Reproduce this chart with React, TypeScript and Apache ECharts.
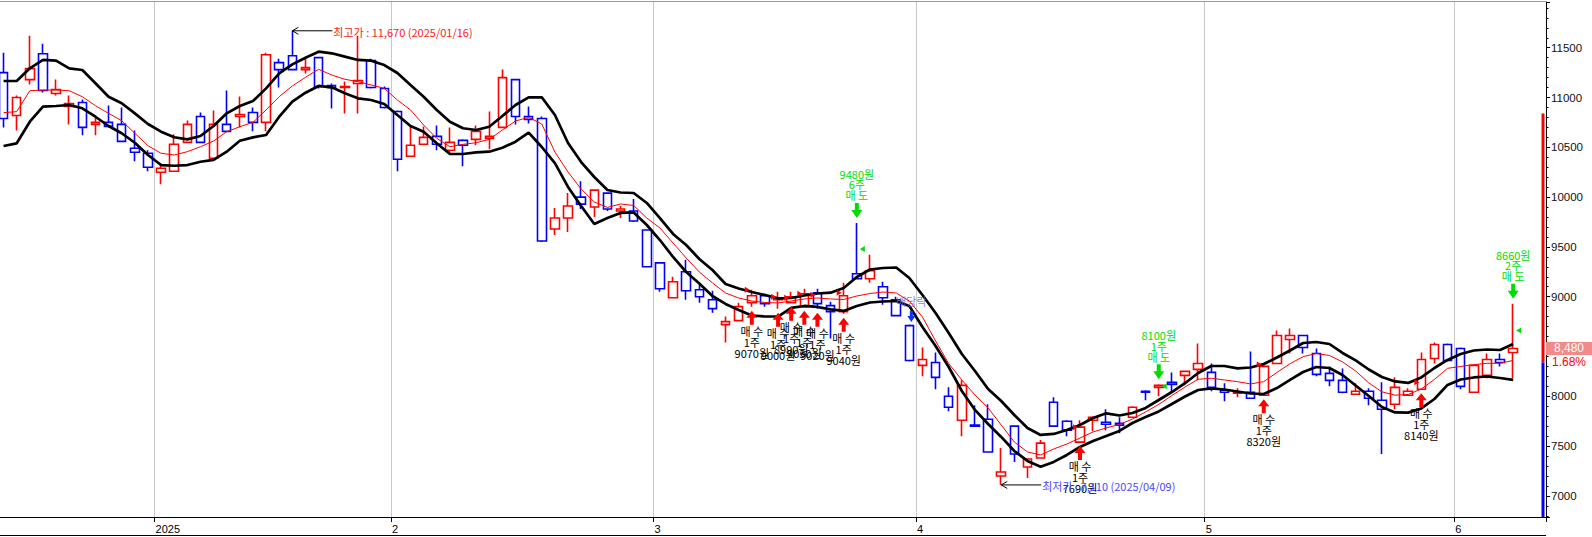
import React, { useEffect, useRef } from 'react';
import * as echarts from 'echarts';

const dates = [
  '2024-12-12','2024-12-13','2024-12-16','2024-12-17','2024-12-18','2024-12-19','2024-12-20','2024-12-23','2024-12-24','2024-12-26','2024-12-27','2024-12-30',
  '2025-01-02','2025-01-03','2025-01-06','2025-01-07','2025-01-08','2025-01-09','2025-01-10','2025-01-13','2025-01-14','2025-01-15','2025-01-16','2025-01-17','2025-01-20','2025-01-21','2025-01-22','2025-01-23','2025-01-24','2025-01-31',
  '2025-02-03','2025-02-04','2025-02-05','2025-02-06','2025-02-07','2025-02-10','2025-02-11','2025-02-12','2025-02-13','2025-02-14','2025-02-17','2025-02-18','2025-02-19','2025-02-20','2025-02-21','2025-02-24','2025-02-25','2025-02-26','2025-02-27','2025-02-28',
  '2025-03-04','2025-03-05','2025-03-06','2025-03-07','2025-03-10','2025-03-11','2025-03-12','2025-03-13','2025-03-14','2025-03-17','2025-03-18','2025-03-19','2025-03-20','2025-03-21','2025-03-24','2025-03-25','2025-03-26','2025-03-27','2025-03-28','2025-03-31',
  '2025-04-01','2025-04-02','2025-04-03','2025-04-04','2025-04-07','2025-04-08','2025-04-09','2025-04-10','2025-04-11','2025-04-14','2025-04-15','2025-04-16','2025-04-17','2025-04-18','2025-04-21','2025-04-22','2025-04-23','2025-04-24','2025-04-25','2025-04-28','2025-04-29','2025-04-30',
  '2025-05-02','2025-05-07','2025-05-08','2025-05-09','2025-05-12','2025-05-13','2025-05-14','2025-05-15','2025-05-16','2025-05-19','2025-05-20','2025-05-21','2025-05-22','2025-05-23','2025-05-26','2025-05-27','2025-05-28','2025-05-29','2025-05-30',
  '2025-06-02','2025-06-04','2025-06-05','2025-06-09','2025-06-10'
];
const padSlots = ['pad-1', 'pad-2'];
const monthTickLabels = ['2025', '2', '3', '4', '5', '6'];

const openP = [
  11250,10820,11180,11440,11040,10910,10950,10730,10750,10730,10490,10440,
  10250,10260,10550,10810,10390,10730,10810,10850,10750,11350,11420,11280,11400,11120,11100,11140,11370,11090,
  10860,10410,10530,10610,10470,10570,10580,10590,10700,11180,10810,10790,9680,9790,10000,9900,10040,9860,9860,9670,
  9340,8990,9250,9070,8970,8720,8760,8940,9010,8970,8940,8900,9040,8910,8850,9230,9180,9100,8970,8710,
  8310,8340,8000,7760,7710,7770,7200,7700,7290,7380,7940,7750,7540,7760,7740,7730,7790,8050,8090,8140,8210,8270,
  8240,8060,8030,8040,8010,8330,8570,8610,8430,8230,8160,8020,8050,7960,7920,8010,8070,8380,8520,
  8480,8040,8210,8370,8440
];
const closeP = [
  10790,11000,11290,11070,11080,10940,10700,10750,10710,10560,10450,10300,
  10290,10530,10730,10550,10730,10660,10830,10750,11430,11280,11280,11300,11110,11100,11110,11170,11100,10900,
  10380,10520,10600,10530,10550,10520,10660,10610,11200,10810,10780,9560,9790,9910,9930,10070,9880,9880,9760,9300,
  9080,9150,9060,9000,8880,8750,8900,9010,8930,8990,9000,9030,8930,8850,9010,9180,9260,8990,8810,8360,
  8370,8190,7890,8110,7700,7440,7240,7420,7370,7530,7700,7660,7690,7790,7720,7710,7890,8040,8110,8120,8250,8330,
  8090,8040,8040,7980,8300,8610,8610,8490,8220,8160,8040,8050,7980,7870,8090,8050,8370,8520,8360,
  8100,8310,8370,8340,8480
];
const lowP = [
  10700,10670,11130,11050,11020,10730,10620,10620,10700,10550,10360,10260,
  10130,10260,10550,10540,10390,10660,10700,10660,10660,11100,11280,11240,11090,10890,10840,10840,11090,10890,
  10260,10410,10530,10470,10430,10310,10520,10480,10700,10730,10740,9550,9620,9650,9880,9800,9860,9790,9750,9300,
  9050,8990,8970,8940,8840,8540,8760,8900,8900,8880,8940,8900,8880,8580,8830,9180,9140,8920,8800,8350,
  8200,8070,7850,7600,7700,7440,7110,7340,7180,7380,7700,7600,7540,7650,7660,7630,7790,7960,8000,8050,8110,8160,
  8050,7950,7990,7980,8010,8330,8430,8430,8200,8100,8030,8020,7910,7420,7870,8010,8070,8330,8350,
  8070,8040,8180,8300,8180
];
const highP = [
  11450,11020,11620,11540,11180,11020,10980,10810,10920,10900,10670,10470,
  10340,10630,10770,10850,10870,11070,11010,10900,11450,11390,11670,11400,11400,11140,11160,11620,11390,11110,
  10870,10710,10710,10720,10700,10580,10720,10860,11280,11180,10910,10810,9890,10040,10160,10080,10040,9910,9980,9670,
  9340,9200,9370,9120,9060,8800,8940,9070,9030,9050,9050,9080,9080,8950,9140,9740,9420,9150,9000,8720,
  8490,8440,8090,8160,7910,7920,7480,7710,7370,7560,7990,7760,7760,7800,7870,7790,7900,8060,8120,8240,8250,8530,
  8330,8130,8080,8450,8330,8660,8680,8610,8480,8300,8280,8130,8080,8140,8190,8080,8440,8540,8530,
  8490,8320,8430,8430,8930
];

const upperBand = [
  11166,11166,11293,11377,11370,11293,11276,11143,11008,10942,10841,10734,
  10657,10601,10580,10614,10714,10841,10915,10965,11092,11243,11333,11400,11460,11444,11410,11377,11370,11326,
  11246,11126,11008,10875,10757,10691,10674,10707,10814,10925,11002,11002,10824,10543,10352,10202,10071,10046,10041,9941,
  9790,9630,9519,9379,9268,9128,9082,9047,9017,8984,8987,9012,9032,9040,9087,9198,9273,9288,9293,9188,
  9017,8836,8636,8425,8254,8073,7953,7812,7682,7612,7622,7662,7712,7782,7829,7807,7832,7883,7963,8043,8131,8234,
  8304,8304,8281,8289,8324,8390,8460,8535,8545,8525,8435,8360,8269,8194,8149,8134,8189,8284,8365,
  8425,8460,8470,8465,8525
];
const midLine = [
  10848,10858,11068,11075,11075,11068,11008,10918,10841,10767,10641,10516,
  10440,10423,10456,10506,10563,10657,10707,10751,10875,11008,11116,11203,11283,11226,11183,11159,11126,11092,
  10975,10875,10724,10590,10506,10530,10546,10580,10674,10764,10801,10734,10453,10252,10081,9951,9896,9931,9916,9790,
  9690,9539,9389,9248,9138,9037,8987,8957,8942,8937,8957,8977,8987,8977,8972,9007,9032,9047,9037,8957,
  8796,8555,8329,8164,8013,7883,7712,7541,7441,7411,7471,7521,7581,7642,7682,7717,7772,7843,7918,8008,8093,8171,
  8181,8164,8147,8124,8147,8239,8327,8398,8430,8410,8345,8254,8134,8045,8011,8018,8073,8169,8281,
  8299,8318,8331,8331,8360
];
const lowerBand = [
  10513,10540,10757,10908,10915,10925,10892,10807,10714,10641,10546,10423,
  10322,10315,10322,10355,10373,10456,10566,10600,10624,10807,10958,11048,11116,11102,11042,10992,10975,10935,
  10824,10714,10657,10540,10433,10433,10450,10456,10496,10556,10647,10503,10342,10102,9911,9730,9790,9841,9846,9720,
  9569,9399,9248,9133,9007,8927,8867,8811,8801,8801,8887,8907,8897,8872,8857,8907,8942,8952,8957,8907,
  8696,8505,8294,8053,7863,7722,7592,7451,7351,7293,7341,7411,7491,7551,7602,7652,7732,7792,7848,7923,7998,8063,
  8080,8068,8048,8028,8023,8083,8164,8244,8294,8284,8214,8109,8003,7893,7838,7836,7878,7973,8114,
  8169,8189,8199,8184,8164
];

const buyIdx = [57, 59, 60, 61, 62, 64, 82, 96, 108];
const buyPrice = [9070, 9000, 8990, 9030, 9020, 9040, 7690, 8320, 8140];
const buyQty = [1, 1, 1, 1, 1, 1, 1, 1, 1];
const sellIdx = [65, 88, 115];
const sellPrice = [9480, 8100, 8660];
const sellQty = [6, 1, 2];
const exDivIdx = [69];

const extremeIdx = [22, 76];
const extremePrice = [11670, 7110];
const extremeKind = ['최고가', '최저가'];

const lastPrice = 8480;
const prevClose = 8340;
const changePct = '1.68%';
const upperLimit = 10840;
const yMin = 6788;
const yMax = 11959;

const categories = [...dates, ...padSlots];
const monthStartIdx = dates
  .map((d, i) => (i > 0 && d.slice(5, 7) !== dates[i - 1].slice(5, 7) ? i : -1))
  .filter((i) => i >= 0);
const isMonthStart = (index: number) => monthStartIdx.indexOf(index) >= 0;

const KR_FONT = '"Noto Sans CJK KR", "Noto Sans", sans-serif';
const fmt = (v: number) => v.toLocaleString('en-US');

function txt(text: string, x: number, y: number, fill: string, align = 'center', size = 11, opacity = 1) {
  return {
    type: 'text',
    x,
    y,
    style: { text, fill, font: `${size}px ${KR_FONT}`, align, verticalAlign: 'middle', opacity },
  };
}

export default function App() {
  const ref = useRef<HTMLDivElement>(null);

  useEffect(() => {
    if (!ref.current) return;
    const chart = echarts.init(ref.current, undefined, { renderer: 'svg' });

    const candleData = dates.map((_, i) => [openP[i], closeP[i], lowP[i], highP[i]]);

    const option: any = {
      animation: false,
      backgroundColor: '#ffffff',
      grid: { left: -3, right: 46, top: 2, bottom: 20, containLabel: false, outerBoundsMode: 'none' },
      graphic: [
        { type: 'line', shape: { x1: 0, y1: 1.5, x2: 1546, y2: 1.5 }, style: { stroke: '#9a9a9a', lineWidth: 1 }, silent: true },
        { type: 'line', shape: { x1: 0, y1: 535.5, x2: 1546, y2: 535.5 }, style: { stroke: '#000', lineWidth: 1 }, silent: true },
      ],
      xAxis: {
        type: 'category',
        data: categories,
        boundaryGap: true,
        axisLine: { show: true, lineStyle: { color: '#000', width: 1 } },
        axisTick: { show: true, interval: (i: number) => isMonthStart(i), length: 5, lineStyle: { color: '#000' } },
        axisLabel: {
          interval: (i: number) => isMonthStart(i),
          formatter: (_v: string, i: number) => {
            const k = monthStartIdx.indexOf(i);
            return k >= 0 ? monthTickLabels[k] : '';
          },
          color: '#000',
          fontSize: 11,
          fontFamily: 'Liberation Sans',
          align: 'left',
          margin: 6,
          padding: [0, 0, 0, -5.5],
        },
        splitLine: { show: true, interval: (i: number) => isMonthStart(i), lineStyle: { color: '#c8c8c8', width: 1 } },
      },
      yAxis: {
        type: 'value',
        position: 'right',
        min: yMin,
        max: yMax,
        splitNumber: 10,
        minInterval: 500,
        maxInterval: 500,
        axisLine: { show: true, lineStyle: { color: '#000', width: 1 } },
        axisTick: { show: true, length: 4, lineStyle: { color: '#000' } },
        minorTick: { show: true, splitNumber: 5, length: 2.5, lineStyle: { color: '#000' } },
        axisLabel: {
          color: '#111',
          fontSize: 11.5,
          fontFamily: 'Liberation Sans',
          margin: 5,
          showMinLabel: false,
          showMaxLabel: false,
          // the current-price tag sits on top of the nearest tick label
          formatter: (v: number) => (Math.abs(v - lastPrice) < 250 ? '' : String(v)),
        },
        splitLine: { show: false },
      },
      series: [
        {
          type: 'candlestick',
          data: candleData,
          barWidth: 9,
          silent: true,
          z: 2,
          itemStyle: {
            color: '#ffffff',
            color0: '#ffffff',
            borderColor: '#ff0000',
            borderColor0: '#0000ff',
            borderWidth: 1.6,
          },
        },
        {
          type: 'line', data: upperBand, symbol: 'none', silent: true, z: 3,
          lineStyle: { color: '#000', width: 2.7 },
        },
        {
          type: 'line', data: lowerBand, symbol: 'none', silent: true, z: 3,
          lineStyle: { color: '#000', width: 2.7 },
        },
        {
          type: 'line', data: midLine, symbol: 'none', silent: true, z: 4,
          lineStyle: { color: '#ff0000', width: 1 },
        },
        {
          type: 'custom',
          silent: true,
          z: 6,
          encode: { x: 0, y: 1 },
          data: buyIdx.map((i, k) => [i, lowP[i], buyPrice[k], buyQty[k]]),
          renderItem: (_p: any, api: any) => {
            const i = api.value(0);
            const [x, yl] = api.coord([i, api.value(1)]);
            const yp = api.coord([i, api.value(2)])[1];
            const t = yl + 4;
            return {
              type: 'group',
              children: [
                {
                  type: 'polygon',
                  shape: { points: [[x, t], [x + 5.5, t + 7], [x + 2, t + 7], [x + 2, t + 14], [x - 2, t + 14], [x - 2, t + 7], [x - 5.5, t + 7]] },
                  style: { fill: '#ff0000' },
                },
                { type: 'polygon', shape: { points: [[x - 7, yp - 3], [x - 2, yp], [x - 7, yp + 3]] }, style: { fill: '#ff0000' } },
                txt('매 수', x, t + 20, '#000'),
                txt(`${api.value(3)}주`, x, t + 31, '#000'),
                txt(`${api.value(2)}원`, x, t + 42, '#000'),
              ],
            };
          },
        },
        {
          type: 'custom',
          silent: true,
          z: 6,
          encode: { x: 0, y: 1 },
          data: sellIdx.map((i, k) => [i, highP[i], sellPrice[k], sellQty[k]]),
          renderItem: (_p: any, api: any) => {
            const i = api.value(0);
            const [x, yh] = api.coord([i, api.value(1)]);
            const yp = api.coord([i, api.value(2)])[1];
            const t = yh - 5;
            const g = '#00dd00';
            return {
              type: 'group',
              children: [
                {
                  type: 'polygon',
                  shape: { points: [[x, t], [x - 5.5, t - 8], [x - 2, t - 8], [x - 2, t - 15], [x + 2, t - 15], [x + 2, t - 8], [x + 5.5, t - 8]] },
                  style: { fill: g },
                },
                { type: 'polygon', shape: { points: [[x + 8, yp - 3], [x + 3, yp], [x + 8, yp + 3]] }, style: { fill: g } },
                txt('매 도', x, t - 22.5, g),
                txt(`${api.value(3)}주`, x, t - 33.5, g),
                txt(`${api.value(2)}원`, x, t - 44, g),
              ],
            };
          },
        },
        {
          type: 'custom',
          silent: true,
          z: 6,
          encode: { x: 0, y: 1 },
          data: exDivIdx.map((i) => [i, highP[i]]),
          renderItem: (_p: any, api: any) => {
            const [x0, yh] = api.coord([api.value(0), api.value(1)]);
            const x = x0 + 2;
            const t = yh - 2.5;
            return {
              type: 'group',
              children: [
                {
                  type: 'polygon',
                  shape: { points: [[x, t], [x - 4, t - 6], [x - 1.5, t - 6], [x - 1.5, t - 11], [x + 1.5, t - 11], [x + 1.5, t - 6], [x + 4, t - 6]] },
                  style: { fill: '#1030ff' },
                },
                txt('배당락', x, t - 21, '#6c6cc8', 'center', 11, 0.85),
              ],
            };
          },
        },
        {
          type: 'custom',
          silent: true,
          z: 6,
          encode: { x: 0, y: 1 },
          data: extremeIdx.map((i, k) => [i, extremePrice[k], k]),
          renderItem: (_p: any, api: any) => {
            const i = api.value(0);
            const price = api.value(1);
            const k = api.value(2);
            const [x, y] = api.coord([i, price]);
            const label = `${extremeKind[k]} : ${fmt(price)} (${dates[i].replace(/-/g, '/')})`;
            const color = k === 0 ? '#ff2020' : '#4848ff';
            return {
              type: 'group',
              children: [
                { type: 'line', shape: { x1: x, y1: y, x2: x + 40, y2: y }, style: { stroke: '#000', lineWidth: 1 } },
                { type: 'polyline', shape: { points: [[x + 6, y - 3.5], [x, y], [x + 6, y + 3.5]] }, style: { stroke: '#000', fill: null, lineWidth: 1 } },
                txt(label, x + 41, y + 1, color, 'left', 11),
              ],
            };
          },
        },
        {
          type: 'custom',
          silent: true,
          z: 7,
          encode: { x: 0, y: 1 },
          data: [[0, lastPrice]],
          renderItem: (params: any, api: any) => {
            const cs = params.coordSys;
            const right = cs.x + cs.width;
            const bottom = cs.y + cs.height;
            const yUp = api.coord([0, upperLimit])[1];
            const yPrev = api.coord([0, prevClose])[1];
            const yLast = api.coord([0, lastPrice])[1];
            const W = api.getWidth();
            const cx = (right + W) / 2;
            return {
              type: 'group',
              children: [
                { type: 'rect', shape: { x: right - 4.5, y: yUp, width: 3, height: yPrev - yUp }, style: { fill: '#ff0000' } },
                { type: 'rect', shape: { x: right - 4.5, y: yPrev, width: 3, height: bottom - yPrev }, style: { fill: '#0000ff' } },
                { type: 'rect', shape: { x: right, y: yLast - 6.5, width: W - right, height: 13 }, style: { fill: '#f38a8a' } },
                {
                  type: 'text', x: cx, y: yLast,
                  style: { text: fmt(lastPrice), fill: '#ffffff', font: '12px "Liberation Sans"', align: 'center', verticalAlign: 'middle' },
                },
                {
                  type: 'text', x: cx, y: yLast + 14,
                  style: { text: changePct, fill: '#ff0000', font: '12px "Liberation Sans"', align: 'center', verticalAlign: 'middle' },
                },
              ],
            };
          },
        },
      ],
    };

    chart.setOption(option);
    return () => chart.dispose();
  }, []);

  return <div ref={ref} style={{ position: 'absolute', left: 0, top: 0, width: 1592, height: 537 }} />;
}
